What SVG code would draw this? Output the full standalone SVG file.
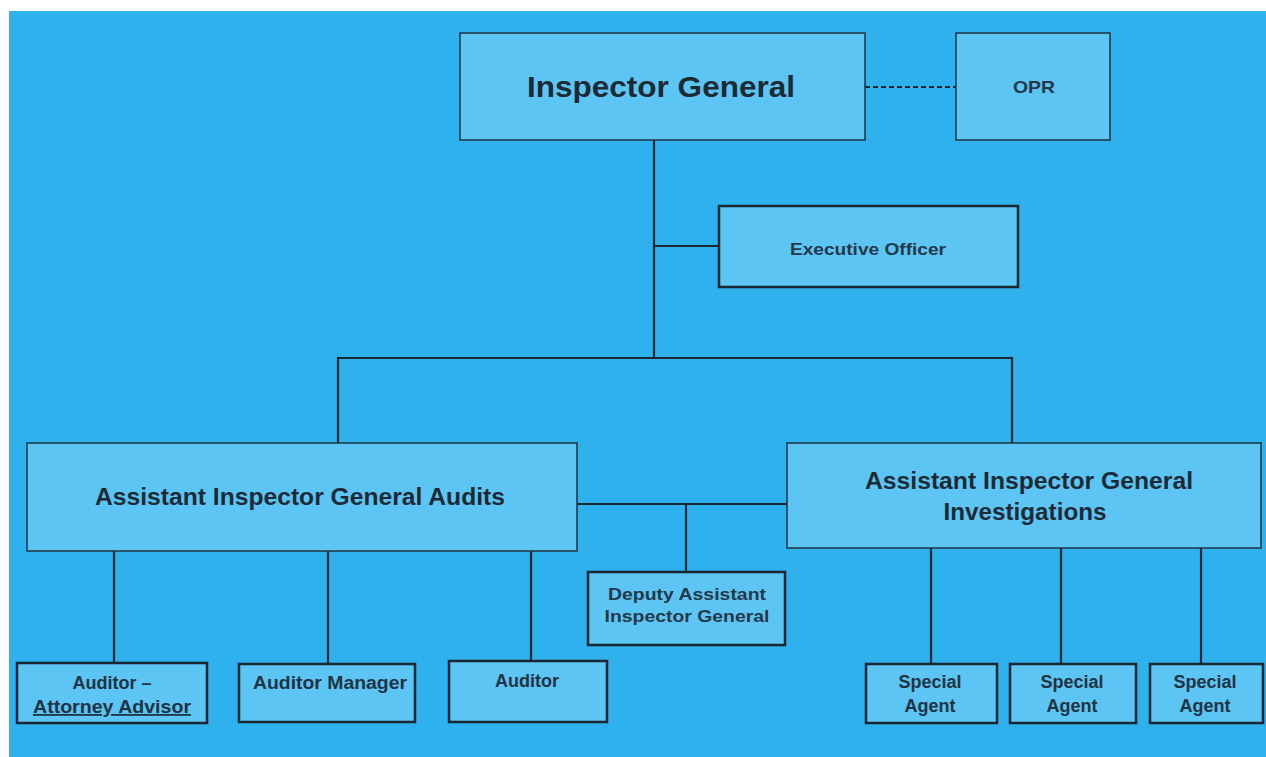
<svg xmlns="http://www.w3.org/2000/svg" width="1266" height="757" viewBox="0 0 1266 757">
<style>
.bg{fill:#2eb1ec}
.box{fill:#5cc5f3;stroke:#1f3340;stroke-width:1.5}
.sbox{fill:#5cc5f3;stroke:#1a2630;stroke-width:2.5}
.ln{stroke:#1a2630;stroke-width:2.2;fill:none}
.dash{stroke:#1a2630;stroke-width:2.2;stroke-dasharray:5 3;fill:none}
text{font-family:"Liberation Sans",Arial,sans-serif;font-weight:bold;fill:#1c2a36;text-anchor:middle}
.t1{font-size:30px}
.t2{font-size:23px}
.t3{font-size:17px;fill:#24384a}
.t4{font-size:18px;fill:#1f3344}
</style>
<rect x="0" y="0" width="1266" height="757" fill="#ffffff"/>
<rect class="bg" x="9" y="11" width="1257" height="746"/>
<g id="connectors">
<line class="dash" x1="865" y1="87" x2="956" y2="87"/>
<line class="ln" x1="654" y1="140" x2="654" y2="358"/>
<line class="ln" x1="654" y1="246" x2="719" y2="246"/>
<polyline class="ln" points="338,443 338,358 1012,358 1012,443"/>
<line class="ln" x1="577" y1="504" x2="787" y2="504"/>
<line class="ln" x1="686" y1="504" x2="686" y2="572"/>
<line class="ln" x1="114" y1="551" x2="114" y2="663"/>
<line class="ln" x1="328" y1="551" x2="328" y2="664"/>
<line class="ln" x1="531" y1="551" x2="531" y2="661"/>
<line class="ln" x1="931" y1="548" x2="931" y2="664"/>
<line class="ln" x1="1061" y1="548" x2="1061" y2="664"/>
<line class="ln" x1="1201" y1="548" x2="1201" y2="664"/>
</g>
<g id="inspector-general">
<rect class="box" x="460" y="33" width="405" height="107"/>
<text class="t1" x="661" y="97" textLength="268" lengthAdjust="spacingAndGlyphs">Inspector General</text>
</g>
<g id="opr">
<rect class="box" x="956" y="33" width="154" height="107"/>
<text class="t3" x="1034" y="93" textLength="42" lengthAdjust="spacingAndGlyphs">OPR</text>
</g>
<g id="executive-officer">
<rect class="sbox" x="719" y="206" width="299" height="81"/>
<text class="t3" x="868" y="255" textLength="156" lengthAdjust="spacingAndGlyphs">Executive Officer</text>
</g>
<g id="aig-audits">
<rect class="box" x="27" y="443" width="550" height="108"/>
<text class="t2" x="300" y="505" textLength="410" lengthAdjust="spacingAndGlyphs">Assistant Inspector General Audits</text>
</g>
<g id="aig-investigations">
<rect class="box" x="787" y="443" width="474" height="105"/>
<text class="t2" x="1029" y="489" textLength="328" lengthAdjust="spacingAndGlyphs">Assistant Inspector General</text>
<text class="t2" x="1025" y="520" textLength="163" lengthAdjust="spacingAndGlyphs">Investigations</text>
</g>
<g id="deputy-aig">
<rect class="sbox" x="588" y="572" width="197" height="73"/>
<text class="t3" x="687" y="600" textLength="158" lengthAdjust="spacingAndGlyphs">Deputy Assistant</text>
<text class="t3" x="687" y="622" textLength="165" lengthAdjust="spacingAndGlyphs">Inspector General</text>
</g>
<g id="auditor-attorney-advisor">
<rect class="sbox" x="17" y="663" width="190" height="60"/>
<text class="t4" x="112" y="689">Auditor –</text>
<text class="t4" x="112" y="713" text-decoration="underline" textLength="158" lengthAdjust="spacingAndGlyphs">Attorney Advisor</text>
</g>
<g id="auditor-manager">
<rect class="sbox" x="239" y="664" width="176" height="58"/>
<text class="t4" x="330" y="689" textLength="154" lengthAdjust="spacingAndGlyphs">Auditor Manager</text>
</g>
<g id="auditor">
<rect class="sbox" x="449" y="661" width="158" height="61"/>
<text class="t4" x="527" y="687">Auditor</text>
</g>
<g id="special-agent-1">
<rect class="sbox" x="866" y="664" width="131" height="59"/>
<text class="t4" x="930" y="688">Special</text>
<text class="t4" x="930" y="712">Agent</text>
</g>
<g id="special-agent-2">
<rect class="sbox" x="1010" y="664" width="126" height="59"/>
<text class="t4" x="1072" y="688">Special</text>
<text class="t4" x="1072" y="712">Agent</text>
</g>
<g id="special-agent-3">
<rect class="sbox" x="1150" y="664" width="113" height="59"/>
<text class="t4" x="1205" y="688">Special</text>
<text class="t4" x="1205" y="712">Agent</text>
</g>
</svg>
